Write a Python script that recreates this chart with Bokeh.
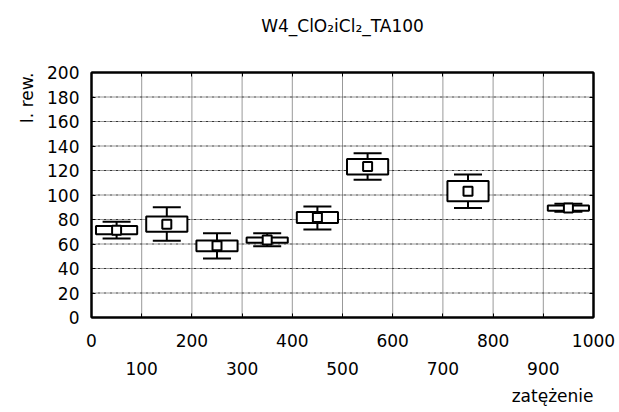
from bokeh.plotting import figure
from bokeh.models import LinearAxis, FixedTicker, Range1d, ColumnDataSource, Title
from bokeh.embed import file_html
from bokeh.resources import INLINE

# Load levels (group centres) and summary statistics of the response
load = [50, 150, 250, 350, 450, 550, 750, 950]
mean = [71.3, 76.2, 58.5, 63.2, 81.6, 123.2, 103.1, 89.3]
box_lo = [67.9, 70.0, 54.0, 61.1, 77.1, 116.8, 94.8, 87.2]
box_hi = [74.7, 82.5, 62.9, 65.4, 86.1, 129.4, 111.4, 91.5]
whisk_lo = [64.4, 62.7, 48.2, 58.1, 71.9, 112.5, 89.4, 86.4]
whisk_hi = [78.2, 89.9, 68.7, 68.7, 90.7, 134.0, 116.8, 92.8]

x_ticks = list(range(0, 1001, 100))
x_even = [t for t in x_ticks if t % 200 == 0]
x_odd = [t for t in x_ticks if t % 200]
y_ticks = list(range(0, 201, 20))

FONT = "DejaVu Sans"
FSIZE = "17px"

p = figure(width=619, height=412, output_backend="svg", toolbar_location=None,
           x_range=Range1d(0, 1000), y_range=Range1d(0, 200),
           x_axis_type=None, y_axis_type=None)
p.min_border_left = 91
p.min_border_right = 26
p.min_border_top = 72
p.min_border_bottom = 95
p.outline_line_color = "black"
p.outline_line_width = 2
p.background_fill_color = "white"
p.border_fill_color = "white"


def style(ax):
    ax.axis_line_color = "black"
    ax.axis_line_width = 2
    ax.major_tick_line_color = "black"
    ax.major_tick_line_width = 1
    ax.major_tick_in = 4
    ax.major_tick_out = 0
    ax.minor_tick_line_color = "black"
    ax.minor_tick_line_width = 1
    ax.minor_tick_in = 4
    ax.minor_tick_out = 0
    ax.major_label_text_font = FONT
    ax.major_label_text_font_size = FSIZE
    ax.major_label_text_color = "black"
    ax.axis_label_text_font = FONT
    ax.axis_label_text_font_size = FSIZE
    ax.axis_label_text_font_style = "normal"
    ax.axis_label_text_color = "black"
    return ax


# bottom axis: labels at even hundreds, plain ticks at odd hundreds
ax_b = style(LinearAxis(ticker=FixedTicker(ticks=x_even, minor_ticks=x_odd)))
ax_b.major_label_standoff = 16
# second row of bottom labels (odd hundreds)
ax_b2 = style(LinearAxis(ticker=FixedTicker(ticks=x_odd)))
ax_b2.axis_line_color = None
ax_b2.major_tick_line_color = None
ax_b2.major_tick_in = 0
ax_b2.major_label_standoff = 12

ax_l = style(LinearAxis(ticker=FixedTicker(ticks=y_ticks)))
ax_l.major_label_standoff = 12

# top axis: tick marks only, carries the chart title
ax_t = style(LinearAxis(ticker=FixedTicker(ticks=[], minor_ticks=x_ticks)))
ax_t.major_label_standoff = 0
ax_t.axis_label = "W4_ClO₂iCl₂_TA100"
ax_t.axis_label_standoff = 37

# right axis: tick marks only
ax_r = style(LinearAxis(ticker=FixedTicker(ticks=[], minor_ticks=y_ticks)))
ax_r.major_label_standoff = 0

p.add_layout(ax_b, "below")
p.add_layout(ax_b2, "below")
p.add_layout(ax_l, "left")
p.add_layout(ax_t, "above")
p.add_layout(ax_r, "right")

# axis names, placed at the far ends of their axes
p.add_layout(Title(text="I. rew.", align="right", text_font=FONT,
                   text_font_size=FSIZE, text_font_style="normal", text_color="black",
                   standoff=16), "left")
p.add_layout(Title(text="zatężenie", align="right", text_font=FONT,
                   text_font_size=FSIZE, text_font_style="normal", text_color="black",
                   standoff=12), "below")

# grid lines
p.segment(x0=x_ticks[1:-1], y0=[0] * 9, x1=x_ticks[1:-1], y1=[200] * 9,
          line_color="#333333", line_width=1, line_dash="1 1")
p.segment(x0=[0] * 9, y0=y_ticks[1:-1], x1=[1000] * 9, y1=y_ticks[1:-1],
          line_color="#333333", line_width=1, line_dash="3 1 1 1")

src = ColumnDataSource(dict(x=load, mean=mean, blo=box_lo, bhi=box_hi,
                            wlo=whisk_lo, whi=whisk_hi))

# whiskers and caps
p.segment(x0="x", y0="wlo", x1="x", y1="whi", source=src, line_color="black", line_width=2)
p.scatter(x="x", y="wlo", source=src, marker="dash", size=28, line_color="black", line_width=2)
p.scatter(x="x", y="whi", source=src, marker="dash", size=28, line_color="black", line_width=2)
# boxes
p.vbar(x="x", width=82, bottom="blo", top="bhi", source=src,
       fill_color="white", line_color="black", line_width=2)
# mean markers
p.scatter(x="x", y="mean", source=src, marker="square", size=9,
          fill_color="white", line_color="black", line_width=2)

open("out.html", "w").write(file_html(p, INLINE))
